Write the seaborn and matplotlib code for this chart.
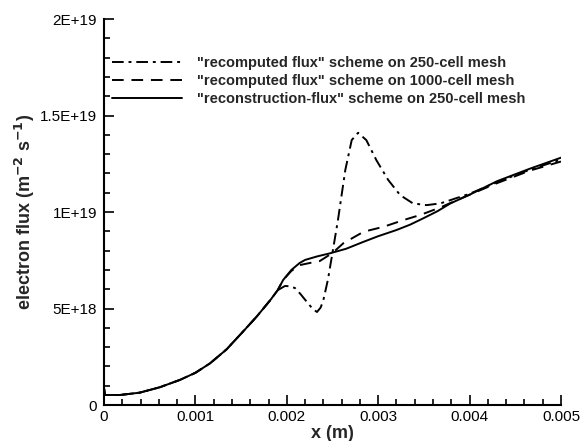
import matplotlib
matplotlib.use("Agg")
import matplotlib.pyplot as plt
import numpy as np
import pandas as pd
import seaborn as sns
from matplotlib.ticker import MultipleLocator, AutoMinorLocator, FuncFormatter

# data (x in m, flux in 1e18 m^-2 s^-1)
# shared part of all three curves
x_common = [0.0, 0.00001, 0.000175, 0.00039, 0.00061, 0.00083, 0.001, 0.00116,
            0.00134, 0.00152, 0.00167, 0.00182, 0.0019]
y_common = [0.88, 0.52, 0.52, 0.64, 0.92, 1.30, 1.67, 2.16,
            2.88, 3.80, 4.58, 5.44, 5.95]

# "reconstruction-flux" 250 cells
x_recon = [0.00196, 0.00205, 0.00214, 0.0022, 0.00233, 0.00247, 0.00265, 0.00284, 0.003,
           0.0032, 0.00335, 0.00349, 0.00365, 0.00379, 0.004, 0.0043, 0.00466, 0.005]
y_recon = [6.48, 7.0, 7.36, 7.52, 7.7, 7.86, 8.1, 8.46, 8.75,
           9.07, 9.35, 9.67, 10.05, 10.45, 10.9, 11.6, 12.25, 12.82]

# "recomputed flux" 1000 cells
x_fine = [0.00196, 0.00205, 0.00214, 0.00225, 0.00236, 0.0025, 0.00262, 0.00284, 0.00306,
          0.00328, 0.00346, 0.00368, 0.0039, 0.0043, 0.00466, 0.005]
y_fine = [6.48, 6.95, 7.25, 7.36, 7.46, 7.88, 8.39, 8.98, 9.24,
          9.59, 9.85, 10.24, 10.7, 11.5, 12.15, 12.62]

# "recomputed flux" 250 cells
x_coarse = [0.00198, 0.00204, 0.00209, 0.00215, 0.00222, 0.00228, 0.00233, 0.00237, 0.0024,
            0.00245, 0.0025, 0.00256, 0.00264, 0.00271, 0.00278, 0.00287, 0.00298, 0.00311,
            0.00324, 0.00338, 0.00353, 0.00368, 0.00379, 0.004, 0.0043, 0.00466, 0.005]
y_coarse = [6.17, 6.15, 6.06, 5.75, 5.34, 5.0, 4.82, 5.05, 5.44,
            6.5, 7.9, 9.6, 12.18, 13.73, 14.11, 13.73, 12.69, 11.66,
            10.88, 10.45, 10.36, 10.45, 10.62, 10.95, 11.55, 12.2, 12.72]

labels = ['"recomputed flux" scheme on 250-cell mesh',
          '"recomputed flux" scheme on 1000-cell mesh',
          '"reconstruction-flux" scheme on 250-cell mesh']

frames = []
for lab, xs, ys in zip(labels, [x_coarse, x_fine, x_recon], [y_coarse, y_fine, y_recon]):
    frames.append(pd.DataFrame({"x": x_common + xs,
                                "flux": np.array(y_common + ys) * 1e18,
                                "scheme": lab}))
df = pd.concat(frames, ignore_index=True)

sns.set_theme(style="ticks")
plt.rcParams['font.family'] = ['Liberation Sans', 'DejaVu Sans']
plt.rcParams['mathtext.default'] = 'bf'

fig = plt.figure(figsize=(5.81, 4.41), dpi=100)
ax = fig.add_axes([0.179, 0.0816, 0.7866, 0.875])

dash_styles = {labels[0]: (6, 2.5, 1.5, 2.5), labels[1]: (6, 4), labels[2]: ""}
sns.lineplot(data=df, x="x", y="flux", hue="scheme", style="scheme",
             palette=["black"] * 3, dashes=dash_styles, hue_order=labels,
             style_order=labels, sort=False, estimator=None, lw=1.4, ax=ax)

ax.set_xlim(0, 0.005)
ax.set_ylim(0, 2e19)
ax.xaxis.set_major_locator(MultipleLocator(0.001))
ax.xaxis.set_minor_locator(AutoMinorLocator(5))
ax.yaxis.set_major_locator(MultipleLocator(5e18))
ax.yaxis.set_minor_locator(AutoMinorLocator(5))


def yfmt(v, pos):
    if v == 0:
        return "0"
    m, e = f"{v:.1E}".split("E")
    m = m.rstrip("0").rstrip(".")
    return f"{m}E+{int(e)}"


def xfmt(v, pos):
    return "0" if v == 0 else f"{v:.3f}"


ax.yaxis.set_major_formatter(FuncFormatter(yfmt))
ax.xaxis.set_major_formatter(FuncFormatter(xfmt))
ax.tick_params(which="both", direction="in", labelsize=11, width=1.2, colors="black")
ax.tick_params(which="major", length=7)
ax.tick_params(which="minor", length=4)
ax.tick_params(axis="y", pad=5)
for s in ["top", "right"]:
    ax.spines[s].set_visible(False)
for s in ["left", "bottom"]:
    ax.spines[s].set_linewidth(1.5)
    ax.spines[s].set_color("black")

ax.set_xlabel("x (m)", fontsize=13, fontweight="bold", labelpad=1)
ax.set_ylabel("electron flux (m$^{-2}$ s$^{-1}$)", fontsize=13, fontweight="bold", labelpad=2)

handles, _ = ax.get_legend_handles_labels()
ax.legend(handles=handles, labels=labels, loc="upper left", bbox_to_anchor=(0.0175, 0.905),
          frameon=False, borderaxespad=0, borderpad=0, handlelength=4.8,
          handletextpad=1.0, labelspacing=0.28, prop={"size": 10.5, "weight": "bold"})

fig.savefig("out.png", dpi=100)
